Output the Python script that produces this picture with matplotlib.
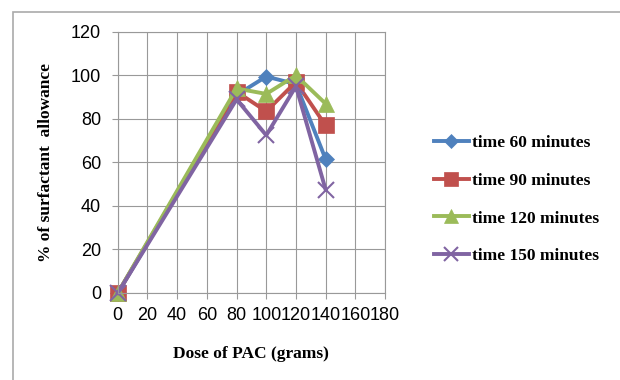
import matplotlib.pyplot as plt
from matplotlib.patches import Rectangle

dose = [0, 80, 100, 120, 140]
t60 = [0, 91, 99.5, 96, 61.5]
t90 = [0, 92.5, 83.5, 97, 77]
t120 = [0, 94, 91.5, 100, 87]
t150 = [0, 89, 72.5, 95, 47.5]
labels = ['time 60 minutes', 'time 90 minutes', 'time 120 minutes', 'time 150 minutes']

fig = plt.figure(figsize=(6.2, 3.8), dpi=100)
ax = fig.add_axes([0.19, 0.229, 0.431, 0.687])

series = [
    (t60, '#4F81BD', 'D', 8),
    (t90, '#C0504D', 's', 11),
    (t120, '#9BBB59', '^', 11),
    (t150, '#8064A2', 'x', 11),
]
for (vals, col, mk, ms), lab in zip(series, labels):
    ax.plot(dose, vals, color=col, marker=mk, markersize=ms, linewidth=2.8,
            markeredgewidth=1.5 if mk == 'x' else 0.5, markeredgecolor=col,
            label=lab, clip_on=False)

ax.set_xlim(0, 180)
ax.set_ylim(0, 120)
ax.set_xticks(range(0, 181, 20))
ax.set_yticks(range(0, 121, 20))
ax.grid(True, color='#999999', linewidth=0.8)
ax.set_axisbelow(True)
for s in ax.spines.values():
    s.set_color('#999999')
ax.tick_params(axis='both', colors='#999999', labelcolor='black', labelsize=13, length=4)
for t in ax.get_xticklabels() + ax.get_yticklabels():
    t.set_fontfamily('Liberation Sans')
ax.tick_params(axis='x', pad=6)
ax.tick_params(axis='y', pad=8)

ax.set_xlabel('Dose of PAC (grams)', family='Liberation Serif', fontweight='bold',
              fontsize=12.5, labelpad=16)
ax.set_ylabel('% of surfactant  allowance', family='Liberation Serif', fontweight='bold',
              fontsize=12.5, labelpad=12)

leg = fig.legend(loc='center left', bbox_to_anchor=(0.675, 0.475), frameon=False,
                 prop={'family': 'Liberation Serif', 'weight': 'bold', 'size': 12.5},
                 handlelength=2.0, labelspacing=1.25, handletextpad=0.2, markerscale=0.9)

fig.patches.append(Rectangle((0.021, -0.1), 1.1, 1.068, transform=fig.transFigure,
                             fill=False, edgecolor='#aaaaaa', linewidth=1.2))

fig.savefig('out.png', dpi=100)
